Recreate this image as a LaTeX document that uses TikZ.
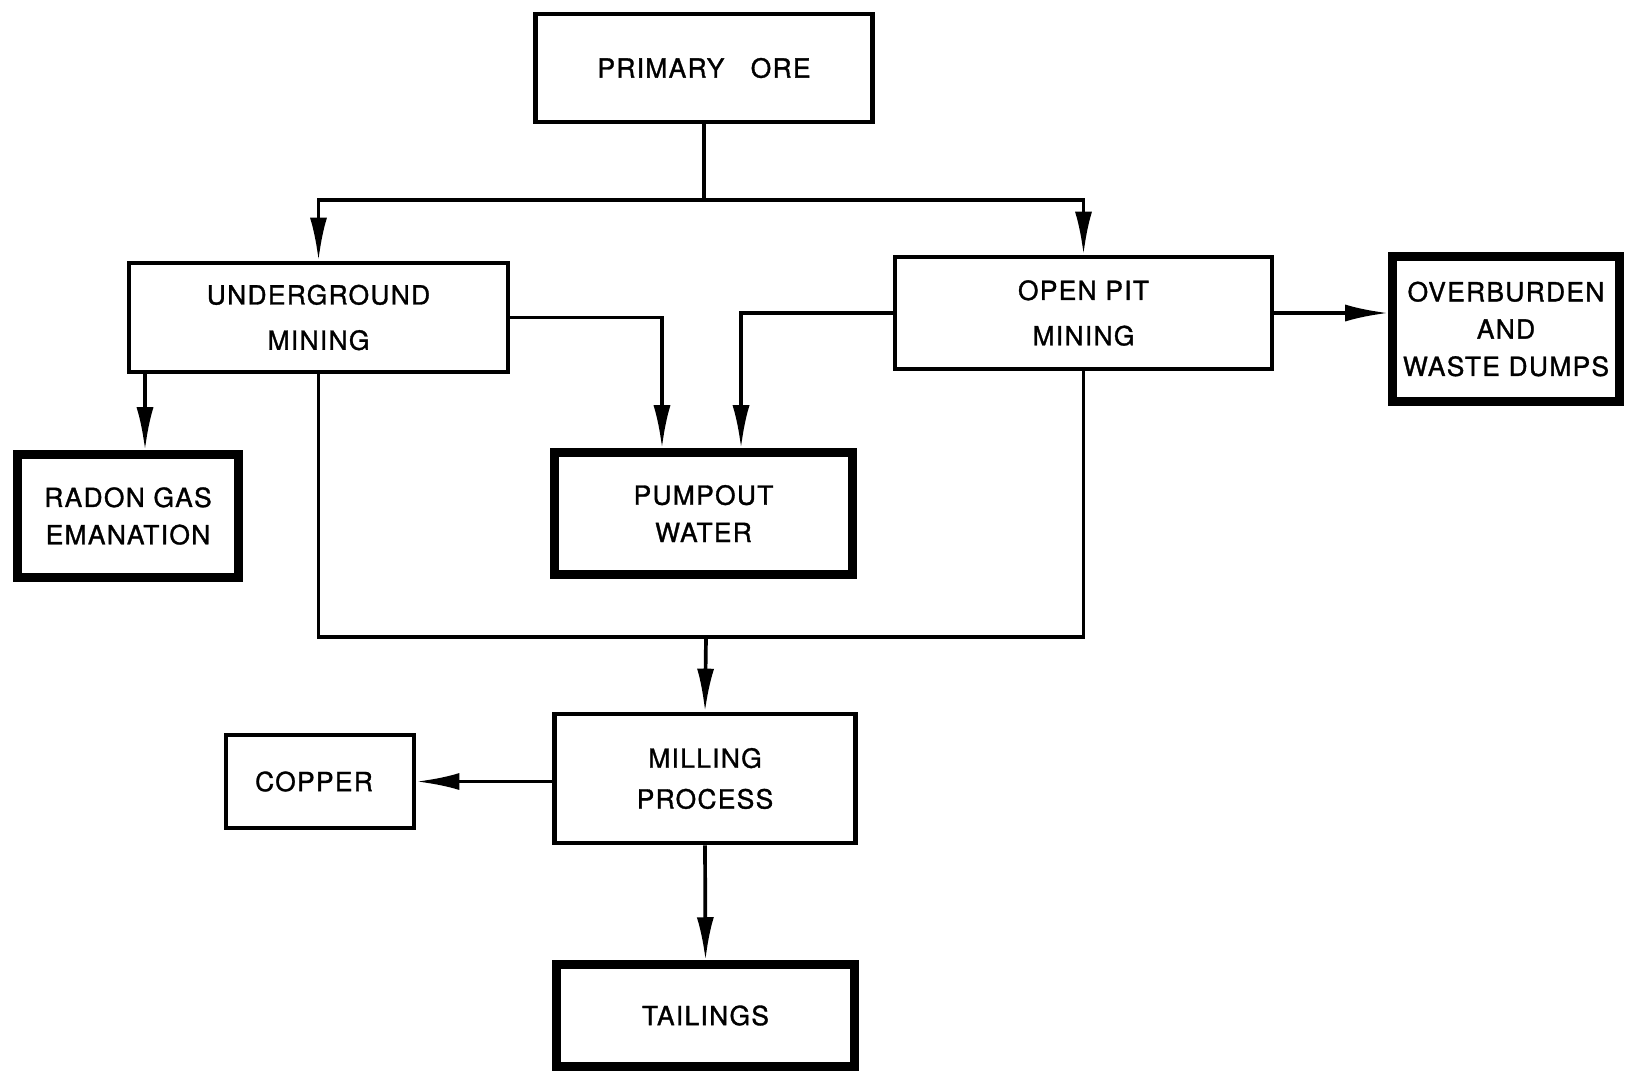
\documentclass[tikz,border=0pt]{standalone}
\usepackage{fontspec}
\setmainfont{TeX Gyre Heros}[LetterSpace=5,FakeBold=1.2]
\usetikzlibrary{arrows.meta,calc,positioning}
\newcommand{\boxfont}{\fontsize{7.5}{10.6}\selectfont}
\tikzset{
    boxsty/.style={draw,rectangle,line width=1.3pt,inner sep=0pt,align=center,font=\boxfont},
    endsty/.style={boxsty,line width=2.4pt},
    linesty/.style={line width=1.05pt},
    arrsty/.style={linesty,->},
}

\begin{document}
\begin{tikzpicture}[x=0.01cm,y=-0.01cm,>={Latex[length=4.3mm,width=1.7mm]}]
\useasboundingbox[fill=white] (0,0) rectangle (1628,1078);

\node (ore)    [boxsty,minimum width=33.7mm,minimum height=10.8mm] at (704,68) {PRIMARY\quad ORE};
\node (ug)     [boxsty,minimum width=37.9mm,minimum height=10.9mm] at (318.5,317.5) {UNDERGROUND\\[2.3pt]MINING};
\node (op)     [boxsty,minimum width=37.7mm,minimum height=11.2mm] at (1083.5,313) {OPEN PIT\\[2.3pt]MINING};
\node (ovb)    [endsty,minimum width=22.7mm,minimum height=14.5mm] at (1506,329) {OVERBURDEN\\AND\\WASTE DUMPS};
\node (radon)  [endsty,minimum width=22.1mm,minimum height=12.3mm] at (128,516) {RADON GAS\\EMANATION};
\node (pump)   [endsty,minimum width=29.8mm,minimum height=12.2mm] at (703.5,513.5) {PUMPOUT\\WATER};
\node (mill)   [boxsty,minimum width=30.1mm,minimum height=12.9mm] at (705,778.5) {MILLING\\[1pt]PROCESS};
\node (copper) [boxsty,minimum width=18.8mm,minimum height=9.3mm] at (320,781.5) {COPPER\hspace{1.2mm}};
\node (tail)   [endsty,minimum width=29.8mm,minimum height=10.2mm] at (705.5,1015.5) {TAILINGS};

\coordinate (split) at (704,200);
\coordinate (merge) at (706,637);

% ore to the two mining kinds
\draw[linesty] (ore.south) -- (split);
\draw[arrsty] (split) -| (ug.north);
\draw[arrsty] (split) -| (op.north);

% water out of both mines
\draw[arrsty] (ug.east) -| ([xshift=-4.15mm]pump.north);
\draw[arrsty] (op.west) -| ([xshift=3.75mm]pump.north);

\draw[arrsty] (op.east) -- (op.east -| ovb.west);
\draw[arrsty] ([xshift=1.7mm]radon.north |- ug.south) -- ([xshift=1.7mm]radon.north);

% both mines feed the mill
\draw[linesty] (ug.south) |- (merge) -| (op.south);
\draw[arrsty] (merge) -- (mill.north);

\draw[arrsty] (mill.west |- copper.east) -- (copper.east);
\draw[arrsty] (mill.south) -- (tail.north);

\end{tikzpicture}
\end{document}
